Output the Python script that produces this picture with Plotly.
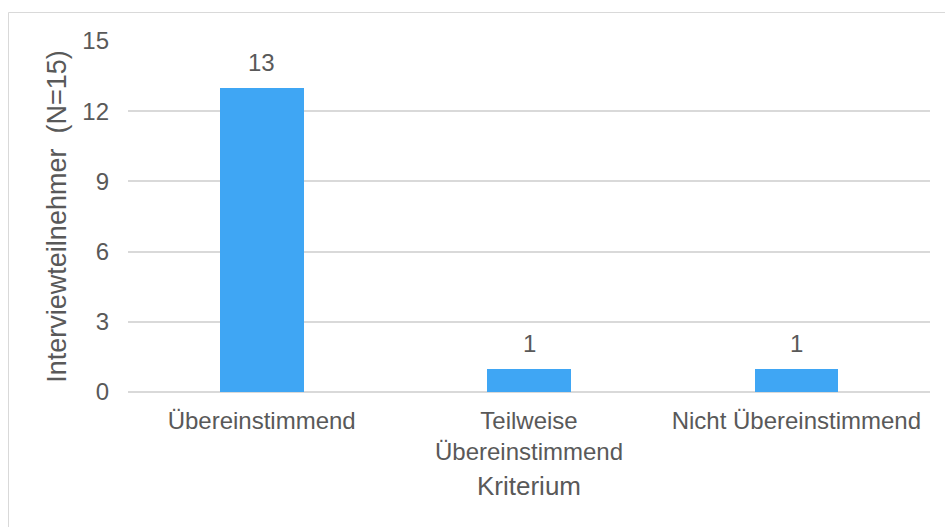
import plotly.graph_objects as go

# Interview results per criterion
categories = ["Übereinstimmend", "Teilweise<br>Übereinstimmend", "Nicht Übereinstimmend"]
counts = [13, 1, 1]
y_ticks = [0, 3, 6, 9, 12, 15]

bar_color = "#3FA6F4"
text_color = "#595959"
grid_color = "#D9D9D9"
font_family = "Liberation Sans, Arial, sans-serif"

W, H = 945, 527
ml, mr, mt, mb = 128, 15, 41, 135
pw, ph = W - ml - mr, H - mt - mb

fig = go.Figure()
fig.add_trace(go.Bar(
    x=categories,
    y=counts,
    width=0.313,
    marker=dict(color=bar_color, line=dict(width=0)),
    hoverinfo="skip",
))

# value labels above each bar
for c, v in zip(categories, counts):
    fig.add_annotation(
        x=c, y=v, text=str(v), showarrow=False,
        yanchor="bottom", yshift=10,
        font=dict(family=font_family, size=24, color=text_color),
    )

# chart frame
def px_x(p):
    return (p - ml) / pw

def px_y(p):
    return (H - mb - p) / ph

fig.add_shape(
    type="rect", xref="paper", yref="paper",
    x0=px_x(8.5), x1=px_x(W + 5), y0=px_y(12.5), y1=px_y(H + 5),
    line=dict(color=grid_color, width=1), fillcolor="rgba(0,0,0,0)",
    layer="below",
)

fig.update_layout(
    width=W, height=H,
    margin=dict(l=ml, r=mr, t=mt, b=mb, pad=0),
    paper_bgcolor="white", plot_bgcolor="white",
    showlegend=False,
    font=dict(family=font_family, size=24, color=text_color),
    bargap=0,
)
fig.update_xaxes(
    showgrid=False, zeroline=False, showline=False, ticks="",
    ticklabelstandoff=12,
    tickfont=dict(size=24, color=text_color),
    title=dict(text="Kriterium", font=dict(size=26, color=text_color), standoff=12),
    automargin=False,
)
fig.update_yaxes(
    range=[0, 15], tickvals=y_ticks, ticktext=[str(t) for t in y_ticks],
    showgrid=True, gridcolor=grid_color, gridwidth=1.5,
    zeroline=True, zerolinecolor=grid_color, zerolinewidth=1.5,
    showline=False, ticks="", ticklabelstandoff=18,
    tickfont=dict(size=24, color=text_color),
    title=dict(text="Interviewteilnehmer  (N=15)", font=dict(size=27, color=text_color), standoff=7),
    automargin=False,
)

fig.write_html("out.html")
